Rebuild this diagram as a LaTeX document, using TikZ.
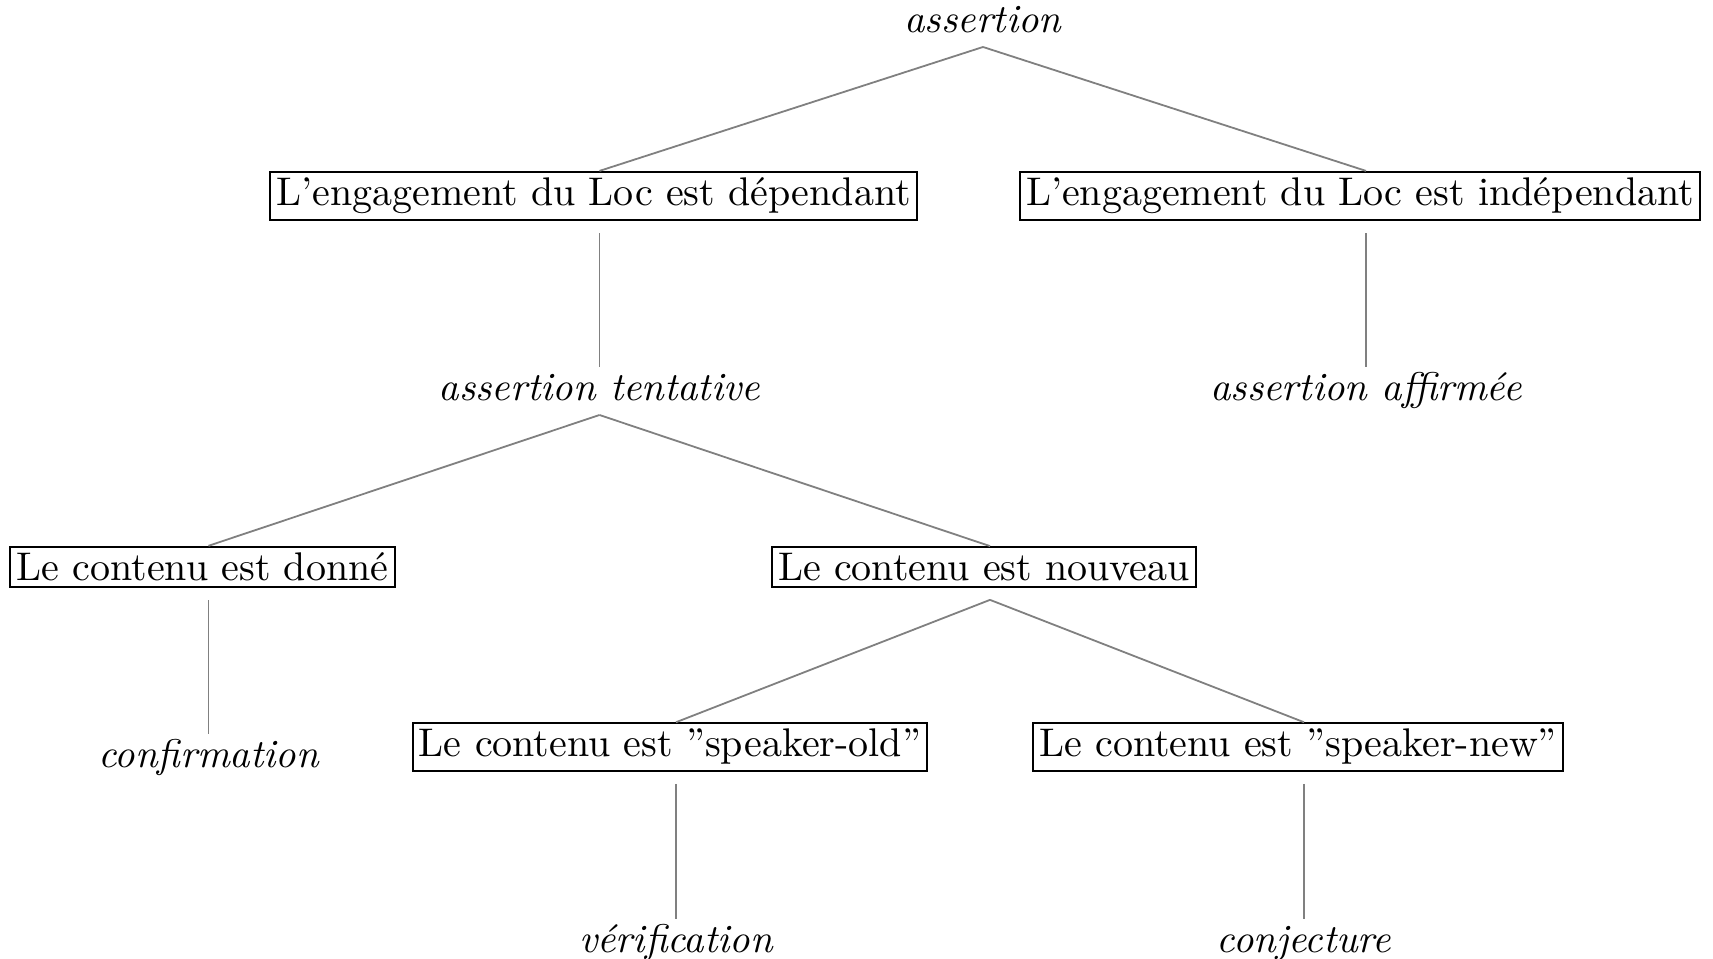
\documentclass[tikz,border=0pt]{standalone}
\usepackage{fontspec}
\begin{document}
\begin{tikzpicture}[x=0.25pt,y=-0.25pt,
  lab/.style={font=\itshape, inner sep=0pt, anchor=base},
  box/.style={draw, line width=0.5pt, inner xsep=1.6pt, inner ysep=1.5pt},
  edge/.style={draw=gray, line width=0.45pt}]
\useasboundingbox (0,0) rectangle (1713,959);
\node[lab] (a) at (983,33) {assertion};
\node[box] (d) at (593.5,196) {L'engagement du Loc est dépendant};
\node[box] (i) at (1360,196) {L'engagement du Loc est indépendant};
\node[lab] (t) at (599.5,401) {assertion tentative};
\node[lab] (f) at (1366,401) {assertion affirmée};
\node[box] (g) at (202.5,567) {Le contenu est donné};
\node[box] (n) at (984,567) {Le contenu est nouveau};
\node[lab] (c) at (208.5,768) {confirmation};
\node[box] (o) at (670,747) {Le contenu est ''speaker-old''};
\node[box] (w) at (1298,747) {Le contenu est ''speaker-new''};
\node[lab] (v) at (676,953) {vérification};
\node[lab] (j) at (1304,953) {conjecture};
% edges
\draw[edge] ([yshift=-3.5pt]a.base) -- ([xshift=1.5pt]d.north);
\draw[edge] ([yshift=-3.5pt]a.base) -- ([xshift=1.5pt]i.north);
\draw[edge] ([xshift=1.5pt,yshift=-3pt]d.south) -- ([yshift=8.5pt]t.base);
\draw[edge] ([xshift=1.5pt,yshift=-3pt]i.south) -- ([yshift=8.5pt]f.base);
\draw[edge] ([yshift=-3.5pt]t.base) -- ([xshift=1.5pt]g.north);
\draw[edge] ([yshift=-3.5pt]t.base) -- ([xshift=1.5pt]n.north);
\draw[edge] ([xshift=1.5pt,yshift=-3pt]g.south) -- ([yshift=8.5pt]c.base);
\draw[edge] ([xshift=1.5pt,yshift=-3pt]n.south) -- ([xshift=1.5pt]o.north);
\draw[edge] ([xshift=1.5pt,yshift=-3pt]n.south) -- ([xshift=1.5pt]w.north);
\draw[edge] ([xshift=1.5pt,yshift=-3pt]o.south) -- ([yshift=8.5pt]v.base);
\draw[edge] ([xshift=1.5pt,yshift=-3pt]w.south) -- ([yshift=8.5pt]j.base);
\end{tikzpicture}
\end{document}
